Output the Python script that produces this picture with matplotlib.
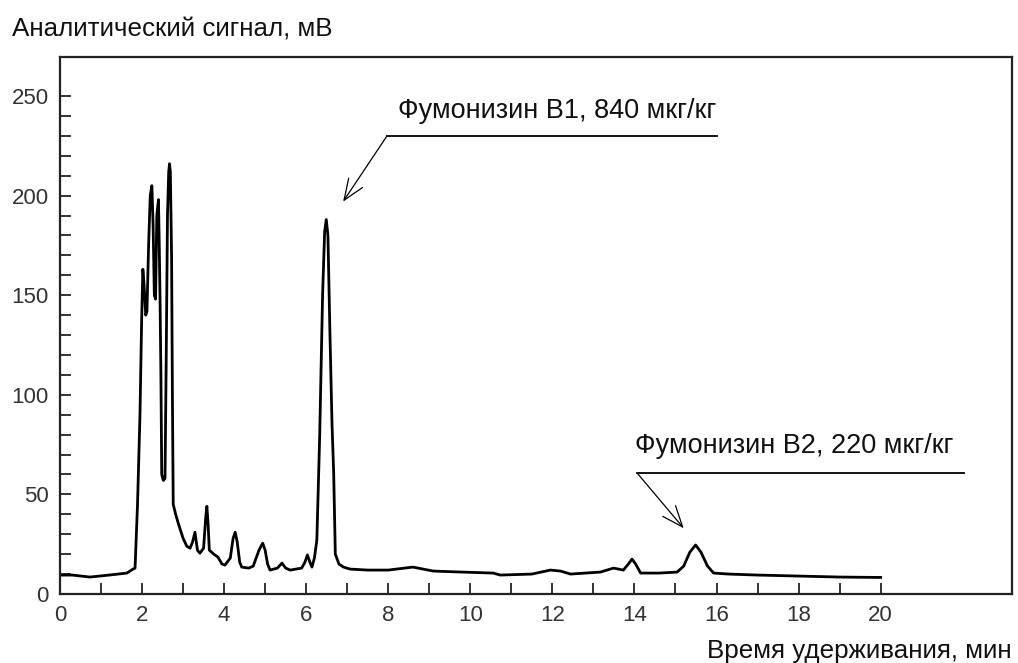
import matplotlib
matplotlib.use("Agg")
import matplotlib.pyplot as plt
from matplotlib.ticker import FixedLocator

# Chromatogram trace (time, min ; signal, mV)
time_min = [0, 0.3, 0.73, 1.2, 1.63, 1.78, 1.83, 1.89, 1.95, 1.99, 2.02, 2.05, 2.09, 2.12,
            2.16, 2.2, 2.24, 2.27, 2.3, 2.33, 2.36, 2.40, 2.42, 2.44, 2.46, 2.48, 2.52,
            2.56, 2.59, 2.62, 2.65, 2.67, 2.69, 2.72, 2.74, 2.76, 2.82, 2.89, 3.0, 3.09,
            3.17, 3.23, 3.29, 3.35, 3.41, 3.5, 3.55, 3.58, 3.61, 3.64, 3.75, 3.85, 3.95,
            4.02, 4.15, 4.22, 4.27, 4.32, 4.38, 4.43, 4.6, 4.71, 4.85, 4.94, 5.0, 5.06,
            5.12, 5.3, 5.41, 5.5, 5.61, 5.89, 5.97, 6.03, 6.09, 6.14, 6.2, 6.26, 6.33,
            6.4, 6.45, 6.49, 6.53, 6.58, 6.63, 6.67, 6.71, 6.8, 6.91, 7.07, 7.5, 8.0,
            8.6, 9.1, 9.8, 10.56, 10.73, 11.5, 11.95, 12.2, 12.44, 13.17, 13.49, 13.73,
            13.85, 13.94, 14.03, 14.15, 14.6, 15.04, 15.2, 15.35, 15.49, 15.62, 15.78,
            15.93, 16.3, 17, 18, 19, 20]
signal_mv = [9.5, 9.5, 8.5, 9.5, 10.5, 12.5, 13, 45, 90, 137, 163, 155, 140, 142,
             175, 200, 205, 185, 150, 148, 190, 198, 175, 146, 110, 60, 57,
             58, 120, 190, 212, 216, 212, 170, 100, 45, 40, 35, 28, 24,
             23, 26, 31, 22, 20.5, 23, 38, 44, 35, 22, 20, 18.5, 15,
             14.5, 18, 28, 31, 26, 16, 13.5, 13, 14, 22, 25.5, 22, 15,
             12, 13, 15.5, 13, 12, 13, 16, 19.6, 16, 13.5, 18, 27, 80,
             150, 182, 188, 180, 130, 85, 61, 20, 15, 13.5, 12.5, 12, 12,
             13.5, 11.5, 11, 10.5, 9.5, 10, 12, 11.5, 10, 11, 13, 12,
             15, 17.5, 15, 10.5, 10.5, 11, 14, 21, 24.6, 21, 14,
             10.5, 10, 9.5, 9, 8.5, 8.3]

x_major = [0, 2, 4, 6, 8, 10, 12, 14, 16, 18, 20]
x_minor = [1, 3, 5, 7, 9, 11, 13, 15, 17, 19]
y_major = [0, 50, 100, 150, 200, 250]
y_minor = [v for v in range(10, 251, 10) if v % 50 != 0]

ylabel_text = "Аналитический сигнал, мВ"
xlabel_text = "Время удерживания, мин"
label_b1 = "Фумонизин В1, 840 мкг/кг"
label_b2 = "Фумонизин В2, 220 мкг/кг"

plt.rcParams['font.family'] = ['Liberation Sans', 'DejaVu Sans']

fig = plt.figure(figsize=(10.18, 6.63), dpi=100)
ax = fig.add_axes([0.0589, 0.1041, 0.9352, 0.8099])

ax.plot(time_min, signal_mv, color='black', lw=2.0, solid_joinstyle='round')

ax.set_xlim(0, 23.2)
ax.set_ylim(0, 269.6)

ax.xaxis.set_major_locator(FixedLocator(x_major))
ax.xaxis.set_minor_locator(FixedLocator(x_minor))
ax.yaxis.set_major_locator(FixedLocator(y_major))
ax.yaxis.set_minor_locator(FixedLocator(y_minor))
ax.set_xticklabels([str(v) for v in x_major])
ax.set_yticklabels([str(v) for v in y_major])

for lab in ax.get_xticklabels() + ax.get_yticklabels():
    lab.set_fontsize(16)
    lab.set_color('#333333')

ax.tick_params(which='both', direction='in', length=8, width=1.4, color='#333333')
ax.tick_params(axis='x', which='both', pad=8)
ax.tick_params(axis='y', which='both', pad=8)

for s in ax.spines.values():
    s.set_linewidth(1.6)
    s.set_color('#222222')

fig.text(12 / 1018, 1 - 30 / 663, ylabel_text, fontsize=18.7, ha='left', va='center', color='#111111')
fig.text(1012 / 1018, 1 - 651 / 663, xlabel_text, fontsize=18.7, ha='right', va='center', color='#111111')

arrow_style = '->, head_length=0.75, head_width=0.3'

# Annotation B1
ax.plot([7.97, 16.02], [230, 230], color='black', lw=1.3)
ax.annotate('', xy=(6.90, 197), xytext=(7.97, 230),
            arrowprops=dict(arrowstyle=arrow_style,
                            color='black', lw=0.9, shrinkA=0, shrinkB=0, mutation_scale=20))
ax.text(12.11, 242.5, label_b1, fontsize=19.5, ha='center', va='center', color='#111111')

# Annotation B2
ax.plot([14.07, 22.03], [60.6, 60.6], color='black', lw=1.3)
ax.annotate('', xy=(15.2, 33), xytext=(14.07, 60.6),
            arrowprops=dict(arrowstyle=arrow_style,
                            color='black', lw=0.9, shrinkA=0, shrinkB=0, mutation_scale=20))
ax.text(17.89, 74.5, label_b2, fontsize=19.5, ha='center', va='center', color='#111111')

fig.savefig('out.png', dpi=100)
